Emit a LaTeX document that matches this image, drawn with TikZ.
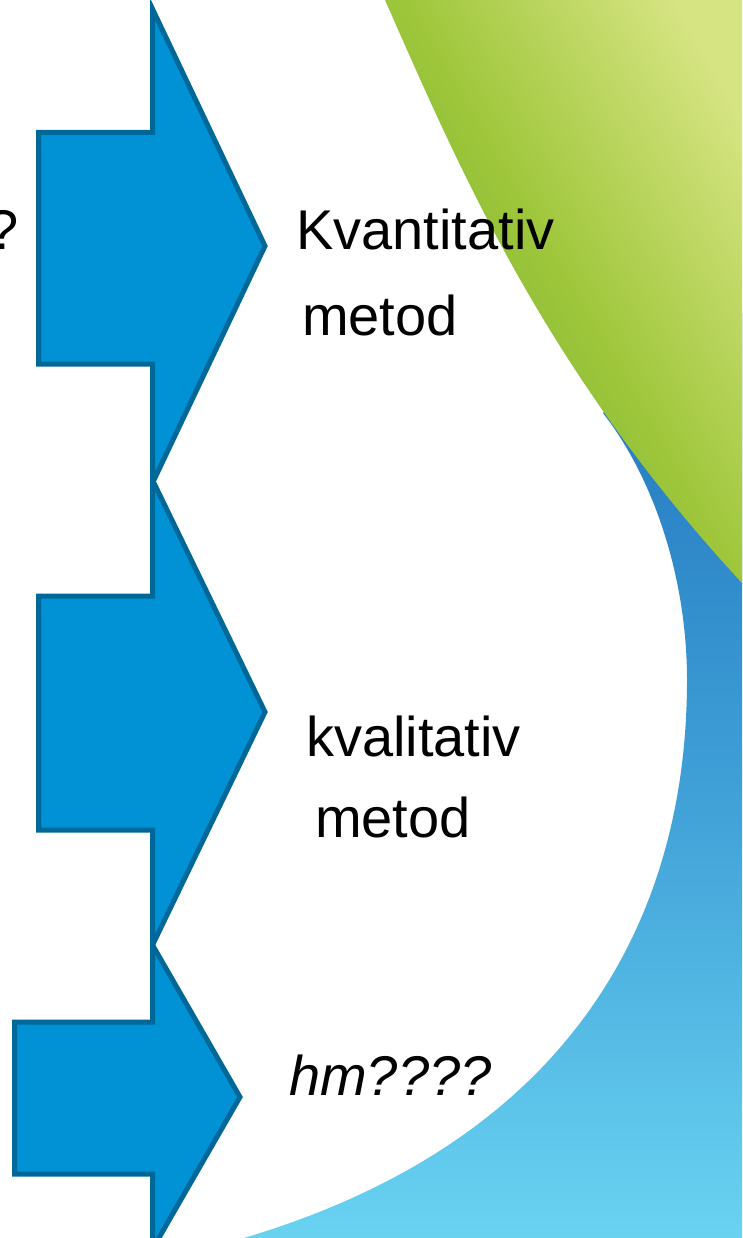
\documentclass[tikz,border=0pt]{standalone}
\usepackage{fontspec}
\setmainfont{Liberation Sans}
\definecolor{arrowfill}{RGB}{0,146,212}
\definecolor{arrowline}{RGB}{0,103,153}
\definecolor{gdark}{RGB}{104,176,56}
\definecolor{gmid}{RGB}{158,198,58}
\definecolor{glight}{RGB}{214,228,130}
\definecolor{btop}{RGB}{32,115,188}
\definecolor{bmid}{RGB}{62,158,214}
\definecolor{bbot}{RGB}{106,212,242}
\tikzset{
  bigarrow/.style={fill=arrowfill, draw=arrowline, line width=5pt, line join=miter, miter limit=10},
  lbl/.style={font=\fontsize{56}{67}\selectfont, inner sep=0pt, anchor=base west, text=black}
}
\begin{document}
\begin{tikzpicture}[x=1pt,y=-1pt]
\useasboundingbox (0,0) rectangle (742,1238);
\begin{scope}
\clip (0,0) rectangle (742,1238);
% blue background shape
\shade[top color=btop, bottom color=bbot, middle color=bmid]
  (760,300) -- (603,413) .. controls (655,480) and (687,580) .. (687,680)
  .. controls (687,930) and (560,1160) .. (200,1250)
  -- (760,1250) -- cycle;
% green background shape
\shade[top color=glight, bottom color=gdark, middle color=gmid, shading angle=-60]
  (380,-12) -- (385,0) .. controls (460,170) and (545,370) .. (742,583) -- (770,617)
  -- (770,-12) -- cycle;
% arrows
\draw[bigarrow] (38.5,132.5) -- (152.5,132.5) -- (152.5,9) -- (265,246) -- (152.5,483) -- (152.5,364) -- (38.5,364) -- cycle;
\draw[bigarrow] (38.5,596) -- (152.5,596) -- (152.5,480) -- (265,712) -- (152.5,945) -- (152.5,830) -- (38.5,830) -- cycle;
\draw[bigarrow] (14.5,1022) -- (152.5,1022) -- (152.5,945) -- (240,1097) -- (152.5,1249) -- (152.5,1174) -- (14.5,1174) -- cycle;
\end{scope}
% texts
\node[lbl, anchor=base east] (q) at (18.5,250) {?};
\node[lbl] (kvant) at (296,250) {Kvantitativ};
\node[lbl] (met1) at (302,335) {metod};
\node[lbl] (kval) at (306,756) {kvalitativ};
\node[lbl] (met2) at (315,837) {metod};
\node[lbl, font=\fontsize{56}{67}\selectfont\itshape] (hm) at (289,1095) {hm????};
\end{tikzpicture}
\end{document}
